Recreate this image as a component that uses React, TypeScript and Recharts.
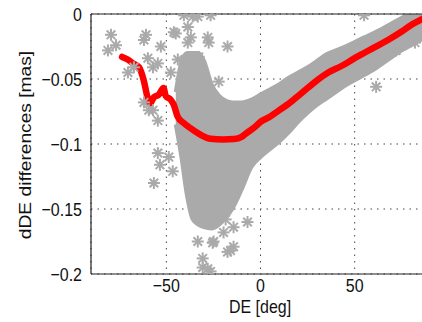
import { ComposedChart, XAxis, YAxis, CartesianGrid, Area, Line, Scatter, ReferenceLine } from 'recharts';

// smoothed dDE curve (red)
const curveDE = [-73.5, -70.5, -67.7, -64.5, -62, -60, -58.7, -56.6, -54, -51.5, -50.3, -47.6, -46, -44, -40.7, -37, -31.7, -26.5, -20, -14, -10, -6.9, -3, 0, 5, 10, 15, 20, 25, 30, 36, 43, 50, 55, 60, 67.7, 75, 80, 85.7, 90];
const curveDiff = [-0.033, -0.035, -0.038, -0.041, -0.051, -0.064, -0.069, -0.064, -0.062, -0.057, -0.063, -0.066, -0.07, -0.079, -0.084, -0.088, -0.093, -0.096, -0.0965, -0.0962, -0.0945, -0.091, -0.087, -0.083, -0.079, -0.074, -0.069, -0.063, -0.057, -0.051, -0.045, -0.04, -0.034, -0.03, -0.026, -0.02, -0.0135, -0.0085, -0.004, -0.001];

// dense cloud of individual differences (gray envelope)
const bandDE = [-45, -42, -39, -36, -33, -30, -26, -22, -18, -15, -10, -5, 0, 5, 10, 15, 20, 25, 30, 35, 40, 45, 50, 55, 60, 65, 70, 75, 80, 85, 90];
const bandLow = [-0.085, -0.11, -0.14, -0.158, -0.162, -0.164, -0.165, -0.162, -0.156, -0.15, -0.135, -0.118, -0.11, -0.104, -0.098, -0.091, -0.083, -0.076, -0.07, -0.065, -0.06, -0.055, -0.051, -0.047, -0.043, -0.038, -0.033, -0.028, -0.024, -0.02, -0.017];
const bandHigh = [-0.06, -0.037, -0.03, -0.03, -0.03, -0.036, -0.054, -0.063, -0.067, -0.068, -0.068, -0.066, -0.062, -0.058, -0.054, -0.049, -0.045, -0.041, -0.036, -0.031, -0.028, -0.025, -0.0215, -0.018, -0.0146, -0.011, -0.007, -0.003, 0, 0, 0];

// isolated points
const outDE = [-79.4, -81, -76.7, -61.9, -60.8, -59.8, -70.4, -54.5, -57.1, -61.9, -59.3, -54.5, -46, -40.7, -37, -33.3, -67.2, -52.9, -57.1, -54.5, -45, -26.5, -38.6, -28, -27.5, -17.5, -32.8, -43.9, -47.6, -36, -38.6, -53.4, -46.6, -56.6, -33.3, -30.7, -28, -48.7, -32.8, -18.5, -14.3, -6.9, -19.6, -25.4, -14.3, -17.5, -30.7, -24.9, -15.9, -26.5, -22.2, 61.4, 55, 79.9, 72, 82];
const outDiff = [-0.016, -0.028, -0.024, -0.02, -0.016, -0.034, -0.045, -0.038, -0.041, -0.068, -0.074, -0.082, -0.014, -0.001, -0.018, -0.002, -0.041, -0.025, -0.074, -0.107, -0.015, -0.001, -0.022, -0.018, -0.022, -0.025, -0.033, -0.035, -0.045, -0.002, -0.01, -0.116, -0.121, -0.13, -0.175, -0.188, -0.196, -0.11, -0.155, -0.158, -0.164, -0.16, -0.168, -0.176, -0.179, -0.183, -0.195, -0.175, -0.182, -0.198, -0.052, -0.056, -0.001, -0.02, -0.028, -0.022];

const xTicks = [-50, 0, 50];
const yTicks = [-0.2, -0.15, -0.1, -0.05, 0];

const curveData = curveDE.map((x, i) => ({ x, y: curveDiff[i] }));
const bandData = bandDE.map((x, i) => ({ x, range: [bandLow[i], bandHigh[i]] }));
const outData = outDE.map((x, i) => ({ x, y: outDiff[i] }));

const GRAY = '#aaaaaa';
const FONT = '"Liberation Sans", Arial, sans-serif';

const fmt = (v: number) => (v < 0 ? '\u2212' + String(-v) : String(v));

const Star = (props: any) => {
    const { cx, cy } = props;
    const r = 6;
    const d = 4.3;
    return (
        <g stroke={GRAY} strokeWidth={2}>
            <line x1={cx - r} y1={cy} x2={cx + r} y2={cy} />
            <line x1={cx} y1={cy - r} x2={cx} y2={cy + r} />
            <line x1={cx - d} y1={cy - d} x2={cx + d} y2={cy + d} />
            <line x1={cx - d} y1={cy + d} x2={cx + d} y2={cy - d} />
        </g>
    );
};

const YTick = (props: any) => {
    const { x, y, payload } = props;
    return (
        <text transform={`translate(${x},${y}) scale(1,1.15)`} textAnchor="end" dy="0.36em" fontSize={16} fill="#111" fontFamily={FONT}>
            {fmt(payload.value)}
        </text>
    );
};

const XTick = (props: any) => {
    const { x, y, payload } = props;
    return (
        <text transform={`translate(${x},${y - 3}) scale(1,1.15)`} textAnchor="middle" dy="0.75em" fontSize={16} fill="#111" fontFamily={FONT}>
            {fmt(payload.value)}
        </text>
    );
};

const YLabel = () => (
    <text transform="translate(31,145) rotate(-90) scale(1.2,1)" textAnchor="middle" fontSize={16} fill="#111" fontFamily={FONT}>
        dDE differences [mas]
    </text>
);

const XLabel = () => (
    <text transform="translate(260,313) scale(1,1.15)" textAnchor="middle" fontSize={16} fill="#111" fontFamily={FONT}>
        DE [deg]
    </text>
);

export default function App() {
    return (
        <div style={{ position: 'fixed', left: 0, top: 0, width: 422, height: 322, overflow: 'hidden', background: '#fff' }}>
            <ComposedChart width={440} height={322} margin={{ top: 14, right: 10, bottom: 0, left: 0 }}>
                <CartesianGrid stroke="#444" strokeDasharray="1.5 5" />
                <XAxis
                    dataKey="x"
                    type="number"
                    domain={[-90, 90]}
                    ticks={xTicks}
                    allowDataOverflow
                    height={48}
                    tickLine={false}
                    tickSize={0}
                    tickMargin={7}
                    tick={<XTick />}
                    axisLine={{ stroke: '#222', strokeWidth: 1.2 }}
                    label={<XLabel />}
                />
                <YAxis
                    type="number"
                    domain={[-0.2, 0]}
                    ticks={yTicks}
                    allowDataOverflow
                    width={91}
                    tickLine={false}
                    tickSize={0}
                    tickMargin={9}
                    tick={<YTick />}
                    axisLine={{ stroke: '#222', strokeWidth: 1.2 }}
                    label={<YLabel />}
                />
                <Area data={bandData} dataKey="range" type="monotone" fill={GRAY} fillOpacity={1} stroke={GRAY} strokeWidth={4} isAnimationActive={false} />
                <Scatter data={outData} dataKey="y" shape={<Star />} isAnimationActive={false} />
                <Line data={curveData} dataKey="y" type="monotone" stroke="#ff0000" strokeWidth={6.5} dot={false} strokeLinecap="round" strokeLinejoin="round" isAnimationActive={false} />
                <ReferenceLine y={0} stroke="#222" strokeWidth={1.2} />
            </ComposedChart>
        </div>
    );
}
